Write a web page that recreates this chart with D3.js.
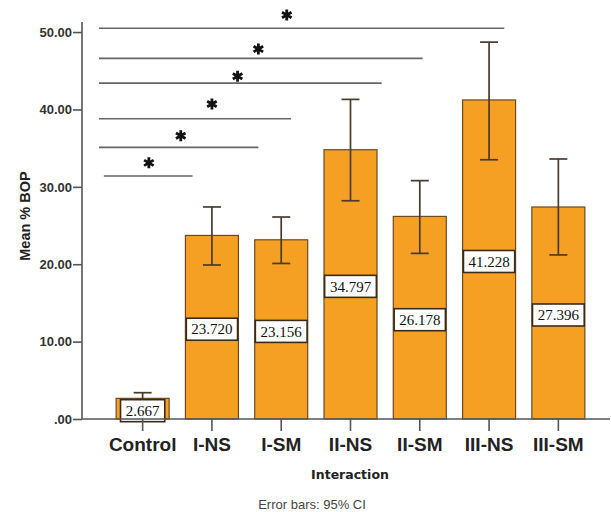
<!DOCTYPE html>
<html>
<head>
<meta charset="utf-8">
<script src="https://cdn.jsdelivr.net/npm/d3@7"></script>
<style>
  body { margin: 0; background: #fff; }
  svg { display: block; }
</style>
</head>
<body>
<svg width="611" height="512"></svg>
<script>
// Chart data
const groups = ['Control', 'I-NS', 'I-SM', 'II-NS', 'II-SM', 'III-NS', 'III-SM'];
const means = [2.667, 23.720, 23.156, 34.797, 26.178, 41.228, 27.396];
const ciLow = [2.0, 19.9, 20.1, 28.2, 21.4, 33.5, 21.2];
const ciHigh = [3.4, 27.4, 26.1, 41.3, 30.8, 48.7, 33.6];
const yTicks = [0, 10, 20, 30, 40, 50];

// Significance brackets (control vs each group), x in bar-index units
const sigLevel = [31.4, 35.1, 38.8, 43.4, 46.6, 50.5];
const sigStart = [-0.56, -0.63, -0.63, -0.63, -0.63, -0.63];
const sigEnd = [0.72, 1.67, 2.14, 3.45, 4.04, 5.22];
const starPos = [0.09, 0.55, 1.0, 1.37, 1.67, 2.08];
const starLevel = [33.1, 36.6, 40.7, 44.3, 47.8, 52.2];

const svg = d3.select('svg');
const axisColor = '#555';

const y = d3.scaleLinear().domain([0, 51.3]).range([419, 22]);
const x = d3.scaleBand().domain(groups).range([108, 593])
    .paddingInner(0.235).paddingOuter(0.1175);
// index -> pixel (bar centres)
const xi = d3.scaleLinear().domain([0, 1])
    .range([x(groups[0]) + x.bandwidth() / 2, x(groups[1]) + x.bandwidth() / 2]);

// Significance lines
svg.append('g').selectAll('line')
    .data(sigLevel)
    .enter()
    .append('line')
    .attr('x1', (d, i) => xi(sigStart[i]))
    .attr('x2', (d, i) => xi(sigEnd[i]))
    .attr('y1', d => y(d))
    .attr('y2', d => y(d))
    .attr('stroke', '#666')
    .attr('stroke-width', 1.6);

// Stars
const starSym = d3.symbolAsterisk ? d3.symbol(d3.symbolAsterisk, 85) : null;
const stars = svg.append('g').selectAll('g')
    .data(starLevel)
    .enter()
    .append('g')
    .attr('transform', (d, i) => `translate(${xi(starPos[i])},${y(d)})`);
if (starSym) {
    stars.append('path')
        .attr('d', starSym)
        .attr('fill', 'none')
        .attr('stroke', '#111')
        .attr('stroke-width', 2.8);
} else {
    stars.append('text')
        .attr('text-anchor', 'middle')
        .attr('dy', '0.55em')
        .attr('font-size', 26)
        .attr('font-weight', 'bold')
        .text('*');
}

// Bars
svg.append('g').selectAll('rect')
    .data(means)
    .enter()
    .append('rect')
    .attr('x', (d, i) => x(groups[i]))
    .attr('width', x.bandwidth())
    .attr('y', d => y(d))
    .attr('height', d => y(0) - y(d))
    .attr('fill', '#F6A023')
    .attr('stroke', '#6b4a22')
    .attr('stroke-width', 1.2);

// Error bars
const eb = svg.append('g')
    .attr('stroke', '#4a3a2c')
    .attr('stroke-width', 1.7);
groups.forEach((g, i) => {
    const cx = x(g) + x.bandwidth() / 2;
    eb.append('line').attr('x1', cx).attr('x2', cx)
        .attr('y1', y(ciLow[i])).attr('y2', y(ciHigh[i]));
    [ciLow[i], ciHigh[i]].forEach(v => {
        eb.append('line').attr('x1', cx - 9).attr('x2', cx + 9)
            .attr('y1', y(v)).attr('y2', y(v));
    });
});

// Value labels
const labels = svg.append('g').selectAll('g')
    .data(means)
    .enter()
    .append('g')
    .attr('transform', (d, i) => `translate(${x(groups[i]) + x.bandwidth() / 2},${y(d / 2) + 2})`);
labels.append('rect')
    .attr('fill', '#fff')
    .attr('stroke', '#3a2a1a')
    .attr('stroke-width', 1.6);
labels.append('text')
    .attr('text-anchor', 'middle')
    .attr('dy', '0.35em')
    .attr('font-family', '"Liberation Serif", "Times New Roman", serif')
    .attr('font-size', 15)
    .attr('fill', '#111')
    .text(d => d.toFixed(3));
labels.each(function() {
    const t = d3.select(this).select('text').node().getBBox();
    d3.select(this).select('rect')
        .attr('x', -t.width / 2 - 5)
        .attr('y', -11)
        .attr('width', t.width + 10)
        .attr('height', 22);
});

// Y axis
const yAxis = svg.append('g')
    .attr('transform', 'translate(82,0)')
    .call(d3.axisLeft(y).tickValues(yTicks).tickSize(9).tickPadding(1)
        .tickFormat(d => d === 0 ? '.00' : d3.format('.2f')(d)));
yAxis.select('.domain').remove();
yAxis.append('line')
    .attr('x1', 0).attr('x2', 0)
    .attr('y1', y(0)).attr('y2', y(51.3));
yAxis.selectAll('line').attr('stroke', axisColor).attr('stroke-width', 1.6);
yAxis.selectAll('text')
    .attr('font-family', '"Liberation Sans", Arial, sans-serif')
    .attr('font-size', 13)
    .attr('font-weight', 'bold')
    .attr('fill', '#333');

// X axis
const xAxis = svg.append('g')
    .attr('transform', `translate(0,${y(0)})`)
    .call(d3.axisBottom(x).tickSize(12).tickPadding(7));
xAxis.select('.domain').remove();
xAxis.append('line')
    .attr('x1', 82).attr('x2', 610)
    .attr('y1', 0).attr('y2', 0);
xAxis.selectAll('line').attr('stroke', axisColor).attr('stroke-width', 1.6);
xAxis.selectAll('text')
    .attr('font-family', '"Liberation Sans", Arial, sans-serif')
    .attr('font-size', 19)
    .attr('font-weight', 'bold')
    .attr('fill', '#222');

// Axis titles
svg.append('text')
    .attr('transform', 'translate(30,216) rotate(-90)')
    .attr('text-anchor', 'middle')
    .attr('font-family', '"Liberation Sans", Arial, sans-serif')
    .attr('font-size', 14.5)
    .attr('font-weight', 'bold')
    .attr('fill', '#222')
    .text('Mean % BOP');

svg.append('text')
    .attr('x', 350)
    .attr('y', 479)
    .attr('text-anchor', 'middle')
    .attr('font-family', '"DejaVu Sans", sans-serif')
    .attr('font-size', 12.5)
    .attr('font-weight', 'bold')
    .attr('fill', '#222')
    .text('Interaction');

svg.append('text')
    .attr('x', 312)
    .attr('y', 509)
    .attr('text-anchor', 'middle')
    .attr('font-family', '"Liberation Sans", Arial, sans-serif')
    .attr('font-size', 13)
    .attr('fill', '#444')
    .text('Error bars: 95% CI');
</script>
</body>
</html>
